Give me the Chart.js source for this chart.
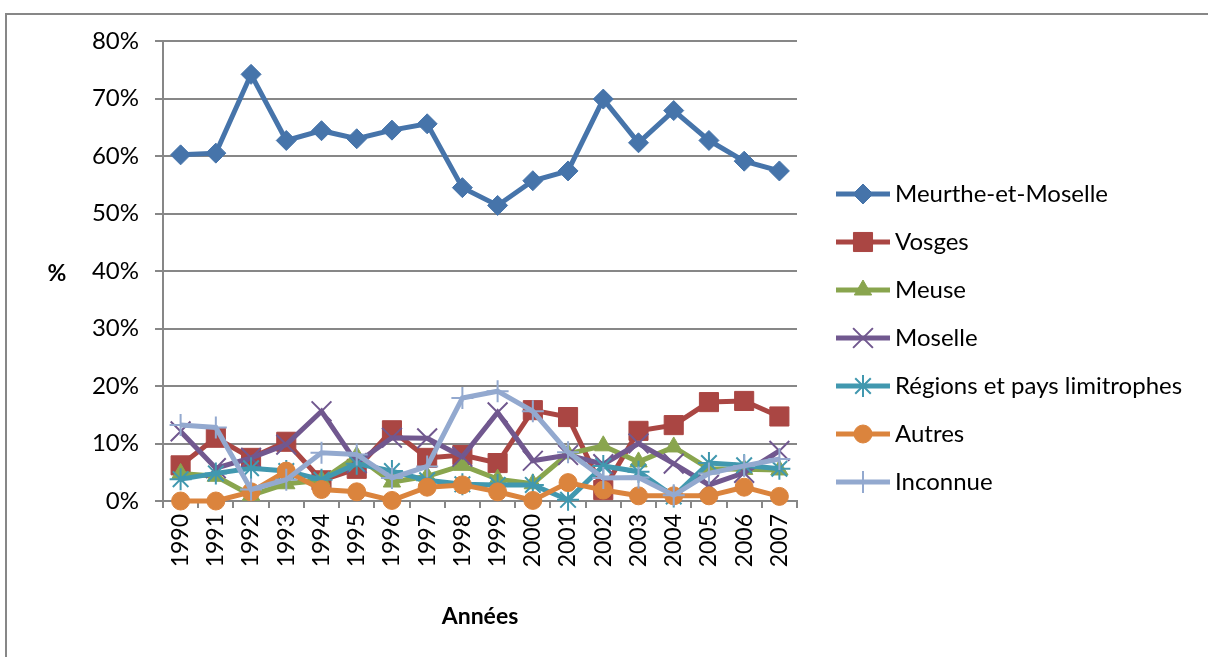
<!DOCTYPE html>
<html>
<head>
<meta charset="utf-8">
<script src="https://cdn.jsdelivr.net/npm/chart.js@4"></script>
<style>
  body { margin: 0; background: #fff; overflow: hidden; }
  .frame { position: absolute; left: 5px; top: 13px; width: 1400px; height: 900px; border: 2px solid #878787; }
  .wrap { position: absolute; left: 0; top: 0; width: 1208px; height: 657px; }
</style>
</head>
<body>
<div class="frame"></div>
<div class="wrap"><canvas id="lineChart"></canvas></div>
<script>
// years and series (percent)
const years = ['1990', '1991', '1992', '1993', '1994', '1995', '1996', '1997', '1998',
  '1999', '2000', '2001', '2002', '2003', '2004', '2005', '2006', '2007'];
const yTicks = [0, 10, 20, 30, 40, 50, 60, 70, 80];

const meurthe = [60.2, 60.5, 74.2, 62.7, 64.4, 63.0, 64.5, 65.6, 54.5, 51.4, 55.7, 57.4, 69.9, 62.3, 67.9, 62.7, 59.1, 57.4];
const vosges = [6.2, 11.0, 7.5, 10.3, 3.6, 5.6, 12.3, 7.5, 8.0, 6.6, 15.8, 14.6, 1.9, 12.2, 13.2, 17.2, 17.4, 14.7];
const meuse = [4.8, 4.3, 1.0, 3.0, 3.6, 7.8, 3.3, 4.3, 6.2, 3.8, 3.0, 8.2, 9.6, 6.8, 9.4, 5.6, 5.5, 5.4];
const moselle = [12.1, 5.7, 7.5, 9.8, 15.6, 6.6, 11.0, 10.9, 7.7, 15.4, 7.0, 8.0, 6.4, 10.0, 6.5, 2.8, 4.9, 8.7];
const regions = [3.8, 4.8, 5.7, 5.2, 3.7, 6.5, 5.2, 3.6, 2.9, 2.8, 2.8, 0.2, 6.1, 5.1, 0.8, 6.6, 6.2, 5.6];
const autres = [0, 0, 1.6, 5.2, 2.0, 1.6, 0.1, 2.4, 2.8, 1.6, 0.1, 3.2, 1.9, 0.9, 0.9, 0.9, 2.4, 0.8];
const inconnue = [13.2, 12.8, 2.0, 3.7, 8.4, 8.1, 4.0, 6.0, 17.9, 19.1, 15.6, 8.5, 4.0, 4.1, 1.0, 4.8, 6.1, 7.3];

const seriesNames = ['Meurthe-et-Moselle', 'Vosges', 'Meuse', 'Moselle', 'Régions et pays limitrophes', 'Autres', 'Inconnue'];
const seriesData = [meurthe, vosges, meuse, moselle, regions, autres, inconnue];
const colors = ['#4674AA', '#AA4643', '#89A54E', '#71588F', '#4198AF', '#DB843D', '#93A9CF'];
const markers = ['rectRot', 'rect', 'triangle', 'crossRot', 'star', 'circle', 'cross'];
const markerSizes = [10, 13.5, 10, 14, 11, 9, 11];
const markerBorders = [1, 1, 1, 2, 2, 1, 2];

const gridColor = '#878787';
Chart.defaults.font.family = 'Lato';
Chart.defaults.color = '#000';

const datasets = seriesNames.map((name, i) => ({
  label: name,
  data: seriesData[i],
  borderColor: colors[i],
  backgroundColor: colors[i],
  borderWidth: 5,
  pointStyle: markers[i],
  pointRadius: markerSizes[i],
  pointHoverRadius: markerSizes[i],
  pointBorderWidth: markerBorders[i],
  pointBackgroundColor: colors[i],
  pointBorderColor: colors[i],
  tension: 0,
  clip: false,
  order: seriesNames.length - i
}));

// legend drawn as Excel does: line with marker in the middle
const sideLegend = {
  id: 'sideLegend',
  afterDraw(chart) {
    const ctx = chart.ctx;
    const x0 = chart.chartArea.right + 39;
    const y0 = 194;
    ctx.save();
    chart.data.datasets.forEach((ds, i) => {
      const y = y0 + i * 48;
      ctx.strokeStyle = ds.borderColor;
      ctx.lineWidth = 5;
      ctx.beginPath();
      ctx.moveTo(x0, y);
      ctx.lineTo(x0 + 54, y);
      ctx.stroke();
      ctx.fillStyle = ds.backgroundColor;
      ctx.lineWidth = ds.pointBorderWidth;
      Chart.helpers.drawPoint(ctx, { pointStyle: ds.pointStyle, radius: ds.pointRadius, rotation: 0, borderWidth: ds.pointBorderWidth }, x0 + 27, y);
      ctx.fillStyle = '#000';
      ctx.font = '24px Lato';
      ctx.textBaseline = 'middle';
      ctx.textAlign = 'left';
      ctx.fillText(ds.label, x0 + 59, y);
    });
    // y axis title, horizontal
    ctx.font = 'bold 23px Lato';
    ctx.textAlign = 'center';
    ctx.fillText('%', chart.chartArea.left - 106, 274);
    ctx.restore();
  }
};

new Chart(document.getElementById('lineChart'), {
  type: 'line',
  data: { labels: years, datasets: datasets },
  options: {
    responsive: true,
    maintainAspectRatio: false,
    animation: false,
    layout: { padding: { left: 0, right: 411, top: 41, bottom: 0 } },
    plugins: {
      legend: { display: false },
      tooltip: { enabled: false }
    },
    scales: {
      x: {
        offset: true,
        afterFit: (scale) => { scale.height = 156; },
        grid: { display: true, drawOnChartArea: false, drawTicks: true, tickLength: 7, offset: true, color: gridColor, lineWidth: 2 },
        border: { display: true, color: gridColor, width: 2 },
        ticks: { autoSkip: false, minRotation: 90, maxRotation: 90, padding: 6, font: { size: 23 } },
        title: { display: true, text: 'Années', font: { size: 23, weight: 'bold' }, padding: { top: 0, bottom: 27 } }
      },
      y: {
        min: 0,
        max: 80,
        afterFit: (scale) => { scale.width = 163; },
        afterBuildTicks: (scale) => { scale.ticks = yTicks.map(v => ({ value: v })); },
        grid: { color: gridColor, lineWidth: 2, tickLength: 8 },
        border: { display: true, color: gridColor, width: 2 },
        ticks: { padding: 16, font: { size: 24 }, callback: (v) => v + '%' }
      }
    }
  },
  plugins: [sideLegend]
});
</script>
</body>
</html>
